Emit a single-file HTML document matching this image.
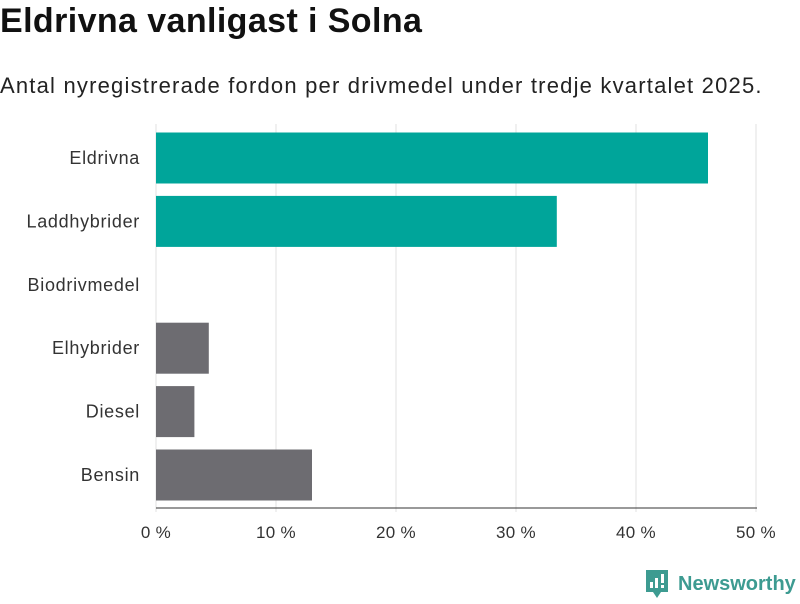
<!DOCTYPE html>
<html><head><meta charset="utf-8"><style>
body{margin:0;width:800px;height:600px;background:#fff;font-family:"Liberation Sans",sans-serif;color:#222;overflow:hidden;position:relative}
#title{position:absolute;left:0;top:2px;font-size:34px;font-weight:bold;color:#111;letter-spacing:0.4px}
#sub{position:absolute;left:0;top:73px;font-size:22px;color:#222;letter-spacing:1.2px}
svg{position:absolute;left:0;top:0}
</style></head><body>
<div id="title">Eldrivna vanligast i Solna</div>
<div id="sub">Antal nyregistrerade fordon per drivmedel under tredje kvartalet 2025.</div>
<svg id="chart" width="800" height="600"></svg>
<script>
const categories=["Eldrivna","Laddhybrider","Biodrivmedel","Elhybrider","Diesel","Bensin"];
const values=[46,33.4,0,4.4,3.2,13];
const highlight=[true,true,true,false,false,false];
const ticks=[0,10,20,30,40,50];
const tickLabels=["0 %","10 %","20 %","30 %","40 %","50 %"];
const NS="http://www.w3.org/2000/svg";
const svg=document.getElementById('chart');
const x0=156,x1=756,y0=126.3,y1=506.7,xmax=50;
const xs=v=>x0+v/xmax*(x1-x0);
const band=(y1-y0)/categories.length, bh=51;
const ys=i=>y0+i*band+(band-bh)/2;
function mk(t,a){const e=document.createElementNS(NS,t);for(const k in a)e.setAttribute(k,a[k]);svg.appendChild(e);return e;}
ticks.forEach((t,i)=>{
  const g=mk('line',{x1:xs(t),x2:xs(t),y1:124,y2:512,stroke:'#e2e2e2','stroke-width':1});
  
  
  const l=mk('text',{x:xs(t),y:538,'text-anchor':'middle','font-size':17,'letter-spacing':0.3,fill:'#333'});
  l.textContent=tickLabels[i];
  
  
});
categories.forEach((c,i)=>{
  const r=mk('rect',{x:x0,y:ys(i),width:xs(values[i])-x0,height:bh,fill:highlight[i]?'#00a59a':'#6d6c71'});
  
  
  const l=mk('text',{x:140,y:ys(i)+bh/2+6,'text-anchor':'end','font-size':18,'letter-spacing':0.7,fill:'#333'});
  l.textContent=c;
  
  
});
const ax=mk('line',{x1:x0,x2:x1+1,y1:508,y2:508,stroke:'#333','stroke-width':1});


</script>
<svg width="170" height="40" style="left:640px;top:564px">
<path d="M6 6h22v22h-7l-4 6-4-6h-7z" fill="#3d9b91"/>
<rect x="10" y="18" width="3" height="6" fill="#fff"/><rect x="15" y="14" width="3" height="10" fill="#fff"/><rect x="21" y="10" width="3" height="9" fill="#fff"/><rect x="21" y="21" width="3" height="3" fill="#fff"/>
<text x="38" y="26" font-size="20" font-family="Liberation Sans,sans-serif" fill="#3d9b91" font-weight="bold">Newsworthy</text>
</svg>
</body></html>
